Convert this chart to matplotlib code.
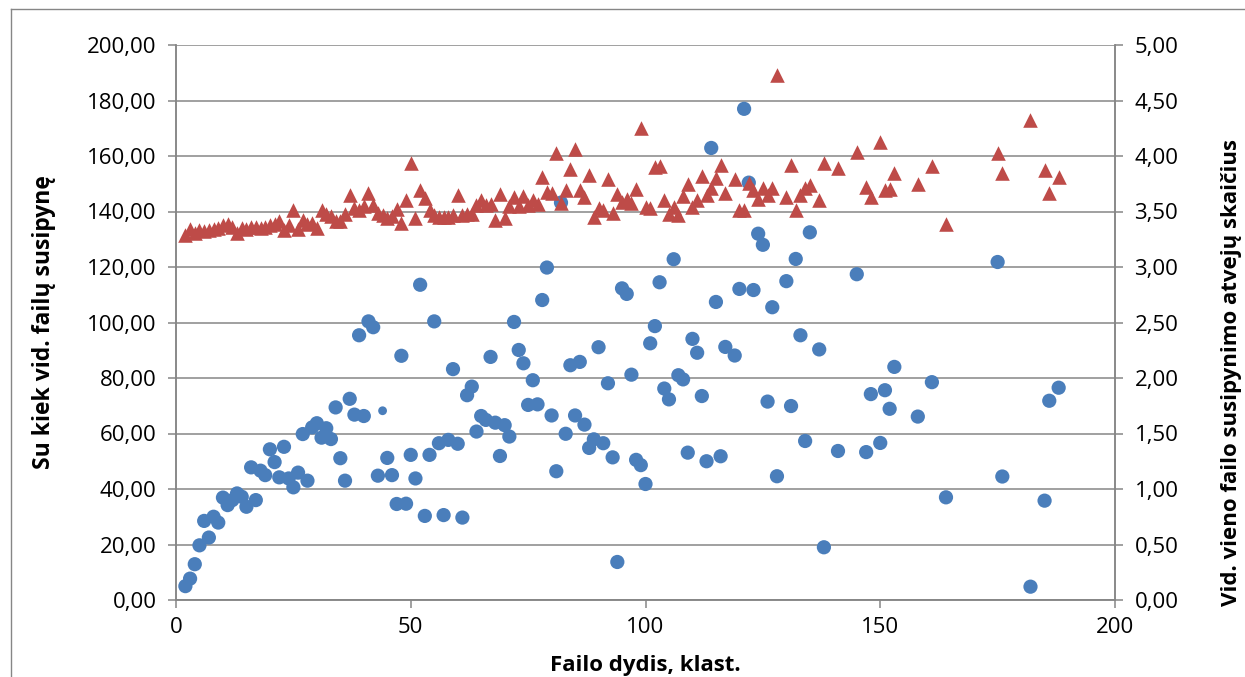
import matplotlib
matplotlib.use("Agg")
import matplotlib.pyplot as plt
from matplotlib.ticker import FuncFormatter, MultipleLocator
from matplotlib.lines import Line2D
import numpy as np

plt.rcParams['font.family'] = ['Open Sans', 'DejaVu Sans']

# ---- data ----
file_size = [2, 3, 4, 5, 6, 7, 8, 9, 10, 11, 12, 13, 14, 15, 16, 17, 18, 19, 20,
             21, 22, 23, 24, 25, 26, 27, 28, 29, 30, 31, 32, 33, 34, 35, 36, 37, 38, 39, 40,
             41, 42, 43, 44, 45, 46, 47, 48, 49, 50, 51, 52, 53, 54, 55, 56, 57, 58, 59, 60,
             61, 62, 63, 64, 65, 66, 67, 68, 69, 70, 71, 72, 73, 74, 75, 76, 77, 78, 79, 80,
             81, 82, 83, 84, 85, 86, 87, 88, 89, 90, 91, 92, 93, 94, 95, 96, 97, 98, 99, 100,
             101, 102, 103, 104, 105, 106, 107, 108, 109, 110, 111, 112, 113, 114, 115, 116, 117,
             119, 120, 121, 122, 123, 124, 125, 126, 127, 128,
             130, 131, 132, 133, 134, 135,
             137, 138, 141, 145, 147, 148, 150, 151, 152, 153, 158, 161, 164,
             175, 176, 182, 185, 186, 188]

avg_files = [5.0, 7.7, 12.9, 19.7, 28.5, 22.5, 30.0, 27.9, 36.9, 34.2, 36.0, 38.4, 37.2, 33.6,
             47.8, 36.0, 46.6, 45.0, 54.3, 49.7, 44.2, 55.2, 43.8, 40.6, 45.9, 59.8, 43.0, 62.2,
             63.7, 58.5, 61.9, 58.0, 69.4, 51.1, 43.0, 72.5, 66.8, 95.4, 66.3, 100.4, 98.3, 44.8,
             68.2, 51.2, 45.0, 34.6, 88.0, 34.7, 52.3, 43.8, 113.6, 30.3, 52.3, 100.4, 56.5, 30.6,
             57.7, 83.2, 56.3, 29.7, 73.8, 76.9, 60.7, 66.3, 64.9, 87.6, 63.9, 51.9, 63.0, 58.9,
             100.2, 90.1, 85.3, 70.3, 79.2, 70.5, 108.1, 119.8, 66.5, 46.4, 143.2, 59.9, 84.6,
             66.5, 85.8, 63.2, 54.8, 57.9, 91.1, 56.5, 78.1, 51.4, 13.7, 112.3, 110.3, 81.2, 50.5,
             48.6, 41.8, 92.5, 98.7, 114.5, 76.2, 72.3, 122.8, 81.0, 79.5, 53.1, 94.1, 89.1, 73.5,
             50.0, 162.9, 107.4, 51.8, 91.2,
             88.1, 112.1, 177.0, 150.4, 111.7, 132.0, 128.0, 71.5, 105.5, 44.6,
             114.9, 69.9, 122.9, 95.4, 57.3, 132.5,
             90.3, 19.0, 53.7, 117.4, 53.3, 74.2, 56.6, 75.6, 68.9, 84.0, 66.1, 78.5, 37.0,
             121.8, 44.5, 4.8, 35.8, 71.8, 76.5]

avg_cases = [3.29, 3.34, 3.31, 3.33, 3.32, 3.33, 3.34, 3.35, 3.38, 3.39, 3.36, 3.31, 3.35, 3.34,
             3.36, 3.36, 3.35, 3.36, 3.38, 3.39, 3.41, 3.33, 3.38, 3.51, 3.34, 3.42, 3.39, 3.40,
             3.35, 3.51, 3.48, 3.46, 3.41, 3.41, 3.48, 3.65, 3.53, 3.51, 3.55, 3.67, 3.56, 3.49,
             3.47, 3.44, 3.46, 3.52, 3.40, 3.60, 3.94, 3.44, 3.69, 3.62, 3.51, 3.47, 3.45, 3.45,
             3.45, 3.47, 3.65, 3.47, 3.48, 3.48, 3.56, 3.60, 3.56, 3.57, 3.42, 3.66, 3.44, 3.55,
             3.63, 3.55, 3.64, 3.56, 3.60, 3.57, 3.81, 3.68, 3.67, 4.03, 3.58, 3.69, 3.88, 4.06,
             3.69, 3.63, 3.83, 3.45, 3.53, 3.51, 3.79, 3.49, 3.66, 3.59, 3.61, 3.58, 3.70, 4.25,
             3.54, 3.53, 3.90, 3.91, 3.60, 3.48, 3.54, 3.47, 3.64, 3.75, 3.54, 3.60, 3.82, 3.65,
             3.71, 3.80, 3.92, 3.67,
             3.79, 3.51, 3.51, 3.76, 3.69, 3.61, 3.71, 3.65, 3.71, 4.73,
             3.63, 3.92, 3.51, 3.65, 3.71, 3.74,
             3.60, 3.94, 3.89, 4.04, 3.72, 3.63, 4.13, 3.69, 3.70, 3.85, 3.75, 3.91, 3.39,
             4.03, 3.85, 4.32, 3.87, 3.67, 3.81]

x_ticks = [0, 50, 100, 150, 200]
left_label = "Su kiek vid. failų susipynę"
right_label = "Vid. vieno failo susipynimo atvejų skaičius"
x_label = "Failo dydis, klast."

# ---- figure ----
W, H = 1245, 677
fig = plt.figure(figsize=(W / 100, H / 100), dpi=100)
ax = fig.add_axes([176 / W, 1 - 600 / H, (1115 - 176) / W, (600 - 45) / H])
ax2 = ax.twinx()

gray = '#868686'
blue = '#4A7EBB'
red = '#BE4B48'

xs = np.array(file_size)
sizes = np.where(xs == 44, 40, 105)
ax.scatter(xs, avg_files, s=sizes, color=blue, marker='o', linewidths=0, zorder=3)
ax2.scatter(xs, avg_cases, s=110, color=red, marker='^', linewidths=0, zorder=3)

ax.set_xlim(0, 200)
ax.set_ylim(0, 200)
ax2.set_ylim(0, 5)
ax.set_xticks(x_ticks)
ax.yaxis.set_major_locator(MultipleLocator(20))
ax2.yaxis.set_major_locator(MultipleLocator(0.5))

fmt = FuncFormatter(lambda v, _: f"{v:.2f}".replace('.', ','))
ax.yaxis.set_major_formatter(fmt)
ax2.yaxis.set_major_formatter(fmt)

ax.grid(axis='y', color=gray, linewidth=1.1)
ax.set_axisbelow(True)

for a in (ax, ax2):
    for side in ('left', 'right', 'bottom'):
        a.spines[side].set_color(gray)
        a.spines[side].set_linewidth(1.1)
    a.spines['top'].set_visible(False)
    a.tick_params(axis='both', colors=gray, labelcolor='black', labelsize=16,
                  length=6, width=1.1, direction='out')
ax.tick_params(axis='y', pad=8)
ax2.tick_params(axis='y', pad=8)
ax.tick_params(axis='x', pad=6)

fig.text(44 / W, 1 - 322 / H, left_label, rotation=90, ha='center', va='center',
         fontsize=16.5, fontweight='bold')
fig.text(1231 / W, 1 - 372 / H, right_label, rotation=90, ha='center', va='center',
         fontsize=16, fontweight='bold')
fig.text(645 / W, 1 - 666 / H, x_label, ha='center', va='center',
         fontsize=16, fontweight='bold')

# outer chart frame (cropped)
fig.add_artist(Line2D([11 / W, 11 / W], [0, 1 - 9 / H], transform=fig.transFigure,
                      color=gray, linewidth=1.0))
fig.add_artist(Line2D([11 / W, 1], [1 - 9 / H, 1 - 9 / H], transform=fig.transFigure,
                      color=gray, linewidth=1.0))

fig.savefig('out.png', dpi=100, facecolor='white')
